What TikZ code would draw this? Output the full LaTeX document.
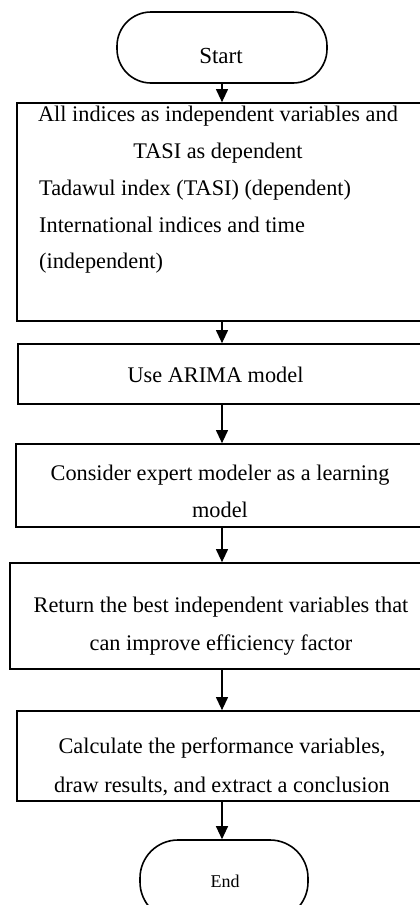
\documentclass[tikz,border=0pt]{standalone}
\usepackage{fontspec}
\setmainfont{Liberation Serif}
\usetikzlibrary{arrows.meta}
\begin{document}
\begin{tikzpicture}[x=1pt,y=-1pt,
  box/.style={draw, line width=1.7pt, inner sep=0pt},
  term/.style={draw, line width=1.6pt, inner sep=0pt},
  txt/.style={font=\fontsize{22.3}{26}\selectfont, inner sep=0pt, anchor=base},
  txtl/.style={txt, anchor=base west},
  arr/.style={line width=1.1pt, -{Triangle[length=13pt,width=12pt]}}]
\useasboundingbox (0,0) rectangle (420,905);
\clip (0,0) rectangle (420,905);
\coordinate (ax) at (222,0);
% shapes
\node[term, rounded corners=34pt, minimum width=210pt, minimum height=71pt] (s) at (222,47.5) {};
\node[box, minimum width=413pt, minimum height=218pt] (b1) at (223.5,212) {};
\node[box, minimum width=412pt, minimum height=60pt] (b2) at (224,374) {};
\node[box, minimum width=414pt, minimum height=83pt] (b3) at (223,485.5) {};
\node[box, minimum width=420pt, minimum height=106pt] (b4) at (220,616) {};
\node[box, minimum width=413pt, minimum height=90pt] (b5) at (223.5,756) {};
\node[term, rounded corners=38pt, minimum width=168pt, minimum height=80pt] (e) at (224,880) {};
% texts
\node[txt, font=\fontsize{23}{26}\selectfont] (ts) at (221,63) {Start};
\node[txt] (t1a) at (218,121) {All indices as independent variables and};
\node[txt] (t1b) at (218,158) {TASI as dependent};
\node[txtl] (t1c) at (39,195) {Tadawul index (TASI) (dependent)};
\node[txtl] (t1d) at (39,232) {International indices and time};
\node[txtl] (t1e) at (39,268) {(independent)};
\node[txt] (t2) at (215.5,382) {Use ARIMA model};
\node[txt] (t3a) at (220,480) {Consider expert modeler as a learning};
\node[txt] (t3b) at (220,517) {model};
\node[txt] (t4a) at (221,612) {Return the best independent variables that};
\node[txt] (t4b) at (221,650) {can improve efficiency factor};
\node[txt] (t5a) at (222,753) {Calculate the performance variables,};
\node[txt] (t5b) at (222,792) {draw results, and extract a conclusion};
\node[txt, font=\fontsize{18}{21}\selectfont] (te) at (225,887) {End};
% arrows
\draw[arr] (s.south -| ax) -- (b1.north -| ax);
\draw[arr] (b1.south -| ax) -- (b2.north -| ax);
\draw[arr] (b2.south -| ax) -- (b3.north -| ax);
\draw[arr] (b3.south -| ax) -- (b4.north -| ax);
\draw[arr] (b4.south -| ax) -- (b5.north -| ax);
\draw[arr] (b5.south -| ax) -- (e.north -| ax);
\end{tikzpicture}
\end{document}
